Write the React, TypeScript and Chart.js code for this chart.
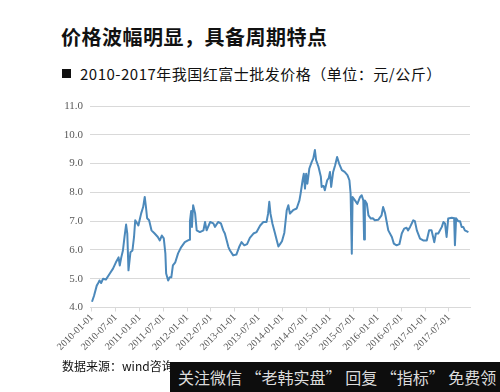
import React, { useEffect, useRef } from "react";
import { Chart, registerables } from "chart.js";

Chart.register(...registerables);

// months since 2010-01-01
const monthOffsets: number[] = [
  0, 0.5, 1.2, 1.5, 1.9, 2.3, 2.8, 3.5, 4.5, 5.3,
  6.0, 6.7, 7.0, 7.4, 7.8, 8.2, 8.6, 8.9, 9.2, 9.7,
  10.2, 10.6, 10.9, 11.4, 11.7, 12.0, 12.4, 12.9, 13.3, 13.6,
  13.9, 14.4, 15.0, 15.8, 16.6, 17.1, 17.6, 18.1, 18.5, 18.7,
  19.2, 19.6, 20.0, 20.4, 21.0, 21.7, 22.5, 23.4, 24.2, 24.5,
  24.7, 25.0, 25.2, 25.5, 26.0, 26.4, 27.2, 28.1, 28.5, 28.9,
  29.8, 30.6, 31.0, 31.8, 32.5, 33.1, 33.5, 34.4, 34.8, 35.6,
  36.4, 37.1, 37.7, 38.4, 39.1, 39.8, 40.7, 41.5, 42.4, 43.2,
  44.0, 44.4, 44.7, 45.0, 45.5, 46.1, 46.6, 47.0, 47.5, 47.9,
  48.5, 49.1, 49.5, 49.9, 50.7, 51.6, 52.3, 52.6, 53.1, 53.4,
  53.7, 54.0, 54.3, 54.8, 55.4, 55.8, 56.2, 56.5, 57.1, 57.7,
  57.9, 58.4, 58.7, 59.3, 59.7, 60.0, 60.3, 60.8, 61.3, 61.8,
  62.3, 63.0, 63.7, 64.4, 64.9, 65.2, 65.5, 65.7, 66.3, 66.9,
  67.6, 68.0, 68.4, 68.6, 68.8, 69.3, 69.7, 70.3, 70.8, 71.3,
  72.2, 73.0, 73.4, 73.9, 74.3, 74.7, 75.6, 76.1, 76.8, 77.5,
  78.1, 78.7, 79.3, 79.7, 80.2, 81.0, 81.4, 81.9, 82.7, 83.5,
  84.4, 85.0, 85.6, 86.0, 86.3, 86.7, 87.3, 88.2, 88.6, 89.0,
  89.4, 89.8, 90.7, 91.3, 91.5, 91.8, 92.3, 92.8, 93.2, 93.6,
  94.0, 94.9,
];

// 红富士批发价格 (元/公斤)
const prices: number[] = [
  4.2, 4.4, 4.76, 4.83, 4.94, 4.85, 5.0, 4.97, 5.18, 5.35,
  5.56, 5.74, 5.46, 5.75, 5.98, 6.45, 6.88, 6.57, 5.29, 5.92,
  5.98, 6.45, 7.03, 6.92, 6.85, 7.03, 7.27, 7.49, 7.84, 7.5,
  7.1, 7.03, 6.68, 6.57, 6.45, 6.33, 6.5, 6.4, 5.88, 5.18,
  4.94, 5.05, 5.05, 5.46, 5.57, 5.88, 6.1, 6.27, 6.33, 6.35,
  7.0, 7.35, 6.8, 7.55, 7.27, 6.68, 6.62, 6.68, 6.97, 6.68,
  6.97, 6.92, 6.8, 6.97, 6.92, 6.68, 6.57, 6.1, 5.98, 5.81,
  5.84, 6.1, 6.27, 6.16, 6.2, 6.42, 6.57, 6.62, 6.85, 6.97,
  6.97, 7.26, 7.67, 7.26, 6.91, 6.6, 6.33, 6.12, 6.22, 6.3,
  6.6, 7.38, 7.55, 7.26, 7.38, 7.44, 7.72, 7.96, 8.42, 8.65,
  8.13, 8.65, 8.3, 8.83, 9.06, 9.18, 9.47, 9.12, 8.89, 8.54,
  8.19, 8.22, 8.07, 8.42, 8.5, 8.71, 8.19, 8.71, 8.94, 9.23,
  9.0, 8.77, 8.71, 8.6, 8.42, 7.96, 5.87, 7.84, 7.72, 7.6,
  7.84, 7.9, 7.72, 6.36, 7.72, 7.6, 7.2, 7.09, 7.1, 7.03,
  7.05, 7.2, 7.49, 7.27, 6.97, 6.68, 6.45, 6.22, 6.16, 6.2,
  6.57, 6.74, 6.77, 6.68, 6.8, 7.03, 7.0, 6.68, 6.39, 6.33,
  6.33, 6.68, 6.68, 6.45, 6.27, 6.57, 6.57, 6.8, 6.97, 6.92,
  6.45, 7.09, 7.12, 7.1, 6.16, 7.1, 7.0, 7.0, 6.8, 6.8,
  6.68, 6.62,
];

const tickMonths: number[] = [0, 6, 12, 18, 24, 30, 36, 42, 48, 54, 60, 66, 72, 78, 84, 90];
const tickLabels: string[] = [
  "2010-01-01", "2010-07-01", "2011-01-01", "2011-07-01",
  "2012-01-01", "2012-07-01", "2013-01-01", "2013-07-01",
  "2014-01-01", "2014-07-01", "2015-01-01", "2015-07-01",
  "2016-01-01", "2016-07-01", "2017-01-01", "2017-07-01",
];

const yTicks: number[] = [4, 5, 6, 7, 8, 9, 10, 11];

function PriceChart() {
  const ref = useRef<HTMLCanvasElement | null>(null);
  useEffect(() => {
    if (!ref.current) return;
    const chart = new Chart(ref.current, {
      type: "line",
      data: {
        datasets: [
          {
            data: monthOffsets.map((m, i) => ({ x: m, y: prices[i] })),
            borderColor: "#4c89bb",
            borderWidth: 2,
            borderJoinStyle: "round",
            pointRadius: 0,
            tension: 0,
            fill: false,
          },
        ],
      },
      options: {
        animation: false,
        responsive: false,
        maintainAspectRatio: false,
        layout: { padding: { top: 16, right: 30, left: 0, bottom: 0 } },
        plugins: { legend: { display: false }, tooltip: { enabled: false } },
        scales: {
          x: {
            type: "linear",
            min: -0.5,
            max: 95.3,
            afterBuildTicks: (s: any) => {
              s.ticks = tickMonths.map((v) => ({ value: v }));
            },
            afterFit: (s: any) => {
              s.height = 52.5;
            },
            ticks: {
              autoSkip: false,
              minRotation: 45,
              maxRotation: 45,
              padding: 0,
              color: "#595959",
              font: { family: "'Liberation Serif', serif", size: 10 },
              callback: (v: any) => {
                const i = tickMonths.indexOf(Number(v));
                return i >= 0 ? tickLabels[i] : "";
              },
            },
            grid: {
              display: true,
              drawOnChartArea: false,
              drawTicks: true,
              tickLength: 4,
              color: "#d9d9d9",
            },
            border: { display: true, color: "#d9d9d9" },
          },
          y: {
            min: 4,
            max: 11,
            afterBuildTicks: (s: any) => {
              s.ticks = yTicks.map((v) => ({ value: v }));
            },
            afterFit: (s: any) => {
              s.width = 90;
            },
            ticks: {
              padding: 7,
              color: "#595959",
              font: { family: "'Liberation Serif', serif", size: 11 },
              callback: (v: any) => Number(v).toFixed(1),
            },
            grid: { color: "#d9d9d9", lineWidth: 1, drawTicks: false },
            border: { display: false },
          },
        },
      },
    } as any);
    return () => chart.destroy();
  }, []);
  return (
    <canvas
      ref={ref}
      width={500}
      height={270}
      style={{ position: "absolute", left: 0, top: 90, width: 500, height: 270 }}
    />
  );
}

export default function App() {
  const cjk = "'Noto Sans CJK SC', sans-serif";
  return (
    <div
      style={{
        position: "fixed",
        left: 0,
        top: 0,
        width: 500,
        height: 392,
        background: "#ffffff",
        overflow: "hidden",
      }}
    >
      <div
        style={{
          position: "absolute",
          left: 61,
          top: 26,
          fontFamily: cjk,
          fontWeight: 700,
          fontSize: 20,
          lineHeight: "22px",
          letterSpacing: 0.5,
          color: "#111",
          whiteSpace: "nowrap",
        }}
      >
        价格波幅明显，具备周期特点
      </div>
      <div
        style={{
          position: "absolute",
          left: 62,
          top: 69,
          width: 9,
          height: 9,
          background: "#111",
        }}
      />
      <div
        style={{
          position: "absolute",
          left: 80,
          top: 64,
          fontFamily: cjk,
          fontSize: 15,
          lineHeight: "20px",
          letterSpacing: 0.5,
          color: "#111",
          whiteSpace: "nowrap",
        }}
      >
        2010-2017年我国红富士批发价格（单位：元/公斤）
      </div>
      <PriceChart />
      <div
        style={{
          position: "absolute",
          left: 62,
          top: 358,
          fontFamily: cjk,
          fontSize: 12,
          lineHeight: "16px",
          color: "#111",
          whiteSpace: "nowrap",
        }}
      >
        数据来源：wind咨询、
      </div>
      <div
        style={{
          position: "absolute",
          left: 170,
          top: 362,
          width: 330,
          height: 30,
          background: "#0d0d0d",
          color: "#dcdcdc",
          fontFamily: cjk,
          fontSize: 16,
          lineHeight: "30px",
          paddingLeft: 8,
          boxSizing: "border-box",
          whiteSpace: "pre",
        }}
      >
        关注微信 “老韩实盘” 回复 “指标” 免费领
      </div>
    </div>
  );
}
